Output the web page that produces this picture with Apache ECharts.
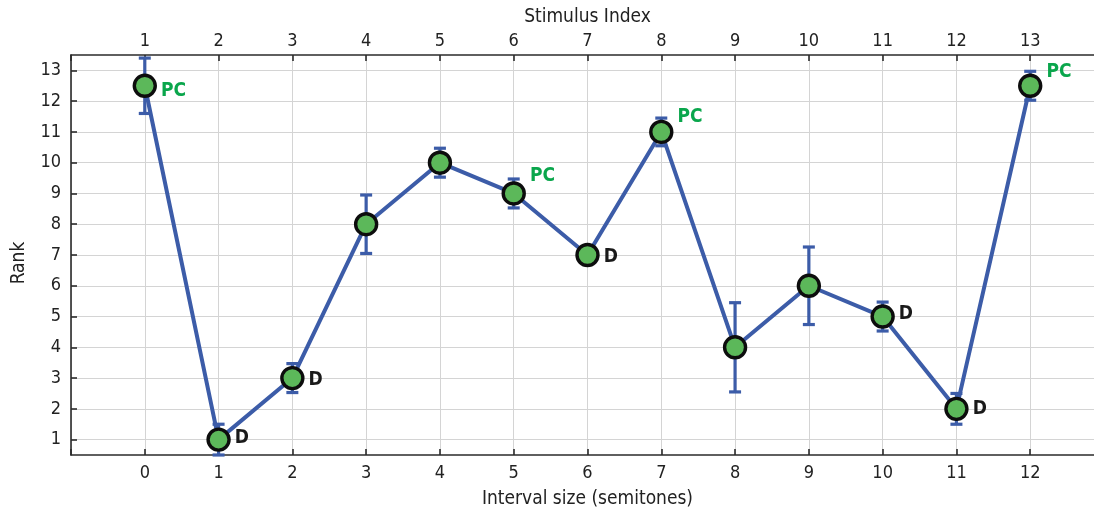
<!DOCTYPE html>
<html>
<head>
<meta charset="utf-8">
<script src="https://cdn.jsdelivr.net/npm/echarts@6/dist/echarts.min.js"></script>
<style>
  html, body { margin: 0; padding: 0; background: #fff; }
  #chart { width: 1094px; height: 514px; }
</style>
</head>
<body>
<div id="chart"></div>
<script>
// Interval sizes in semitones (bottom axis) and stimulus numbers (top axis)
const intervals = [0, 1, 2, 3, 4, 5, 6, 7, 8, 9, 10, 11, 12];
const stimulusIndex = [1, 2, 3, 4, 5, 6, 7, 8, 9, 10, 11, 12, 13];
// Mean rank per interval and the half-length of its error bar
const rank = [12.5, 1, 3, 8, 10, 9, 7, 11, 4, 6, 5, 2, 12.5];
const rankError = [0.9, 0.5, 0.47, 0.95, 0.47, 0.47, 0, 0.45, 1.45, 1.26, 0.47, 0.5, 0.47];
// Annotation per point: PC = perfect consonance, D = dissonance
const pointTags = ['PC', 'D', 'D', '', '', 'PC', 'D', 'PC', '', '', 'D', 'D', 'PC'];
// Rank tick labels
const rankTicks = [1, 2, 3, 4, 5, 6, 7, 8, 9, 10, 11, 12, 13];

const FONT = '"Liberation Sans Narrow", "DejaVu Sans Condensed", "Noto Sans", sans-serif';
const BLUE = '#3c5ca8';
const GREEN_FILL = '#5cb85a';
const TAG_GREEN = '#0aa64c';
const AXIS_COLOR = '#2b2b2b';
const GRID_COLOR = '#d4d4d4';

// Per-tag label placement next to the markers
const tagStyle = {
  'PC': { color: TAG_GREEN },
  'D': { color: '#1a1a1a' }
};
const tagOffsets = [[0, 5], [0, -2], [0, 2], [0, 0], [0, 0], [0, -17], [0, 2], [0, -15], [0, 0], [0, 0], [0, -2], [0, 0], [0, -14]];

const lineData = intervals.map((x, i) => {
  const tag = pointTags[i];
  const item = { value: [x, rank[i]] };
  if (tag) {
    item.label = {
      show: true,
      formatter: tag,
      position: 'right',
      distance: 4,
      offset: tagOffsets[i],
      color: tagStyle[tag].color,
      fontFamily: FONT,
      fontWeight: 'bold',
      fontSize: 19
    };
  }
  return item;
});

const errorData = intervals.map((x, i) => [x, rank[i] - rankError[i], rank[i] + rankError[i]]);

const chart = echarts.init(document.getElementById('chart'), null, { renderer: 'canvas' });

chart.setOption({
  animation: false,
  backgroundColor: '#fff',
  textStyle: { fontFamily: FONT },
  grid: { left: 71, top: 55, width: 1033, height: 400, containLabel: false, outerBoundsMode: 'none' },
  xAxis: [
    {
      type: 'value',
      position: 'bottom',
      min: -1,
      max: 13,
      interval: 1,
      name: 'Interval size (semitones)',
      nameLocation: 'middle',
      nameGap: 35,
      nameTextStyle: { fontFamily: FONT, fontSize: 19, color: '#222' },
      axisLine: { show: true, onZero: false, lineStyle: { color: AXIS_COLOR, width: 1.6 } },
      axisTick: { show: true, inside: true, length: 6, lineStyle: { color: AXIS_COLOR, width: 1.6 } },
      axisLabel: {
        margin: 9,
        fontFamily: FONT,
        fontSize: 18,
        color: '#222',
        formatter: v => (intervals.indexOf(v) >= 0 ? String(v) : '')
      },
      splitLine: { show: true, lineStyle: { color: GRID_COLOR, width: 1 } }
    },
    {
      type: 'value',
      position: 'top',
      min: 0,
      max: 14,
      interval: 1,
      name: 'Stimulus Index',
      nameLocation: 'middle',
      nameGap: 28,
      nameTextStyle: { fontFamily: FONT, fontSize: 19, color: '#222' },
      axisLine: { show: true, onZero: false, lineStyle: { color: AXIS_COLOR, width: 1.6 } },
      axisTick: { show: true, inside: true, length: 6, lineStyle: { color: AXIS_COLOR, width: 1.6 } },
      axisLabel: {
        margin: 5,
        fontFamily: FONT,
        fontSize: 18,
        color: '#222',
        formatter: v => (stimulusIndex.indexOf(v) >= 0 ? String(v) : '')
      },
      splitLine: { show: false }
    }
  ],
  yAxis: {
    type: 'value',
    min: 0.5,
    max: 13.5,
    name: 'Rank',
    nameLocation: 'middle',
    nameGap: 42,
    nameRotate: 90,
    nameTextStyle: { fontFamily: FONT, fontSize: 19, color: '#222', padding: [0, 16, 0, 0] },
    axisLine: { show: true, onZero: false, lineStyle: { color: AXIS_COLOR, width: 1.6 } },
    axisTick: { show: true, inside: true, length: 6, customValues: rankTicks, lineStyle: { color: AXIS_COLOR, width: 1.6 } },
    axisLabel: { customValues: rankTicks, margin: 10, fontFamily: FONT, fontSize: 18, color: '#222' },
    splitLine: { show: true, lineStyle: { color: GRID_COLOR, width: 1 } }
  },
  series: [
    {
      type: 'custom',
      name: 'error',
      xAxisIndex: 0,
      z: 1,
      data: errorData,
      encode: { x: 0, y: [1, 2] },
      renderItem: function (params, api) {
        const x = api.value(0);
        const lo = api.coord([x, api.value(1)]);
        const hi = api.coord([x, api.value(2)]);
        const cap = 6;
        const style = { stroke: BLUE, lineWidth: 3.2 };
        return {
          type: 'group',
          children: [
            { type: 'line', shape: { x1: lo[0], y1: lo[1], x2: hi[0], y2: hi[1] }, style: style },
            { type: 'line', shape: { x1: lo[0] - cap, y1: lo[1], x2: lo[0] + cap, y2: lo[1] }, style: style },
            { type: 'line', shape: { x1: hi[0] - cap, y1: hi[1], x2: hi[0] + cap, y2: hi[1] }, style: style }
          ]
        };
      }
    },
    {
      type: 'line',
      name: 'rank',
      xAxisIndex: 0,
      z: 3,
      data: lineData,
      symbol: 'circle',
      symbolSize: 21,
      showAllSymbol: true,
      lineStyle: { color: BLUE, width: 4 },
      itemStyle: { color: GREEN_FILL, borderColor: '#0d0d0d', borderWidth: 3.4 },
      emphasis: { disabled: true }
    }
  ]
});
</script>
</body>
</html>
